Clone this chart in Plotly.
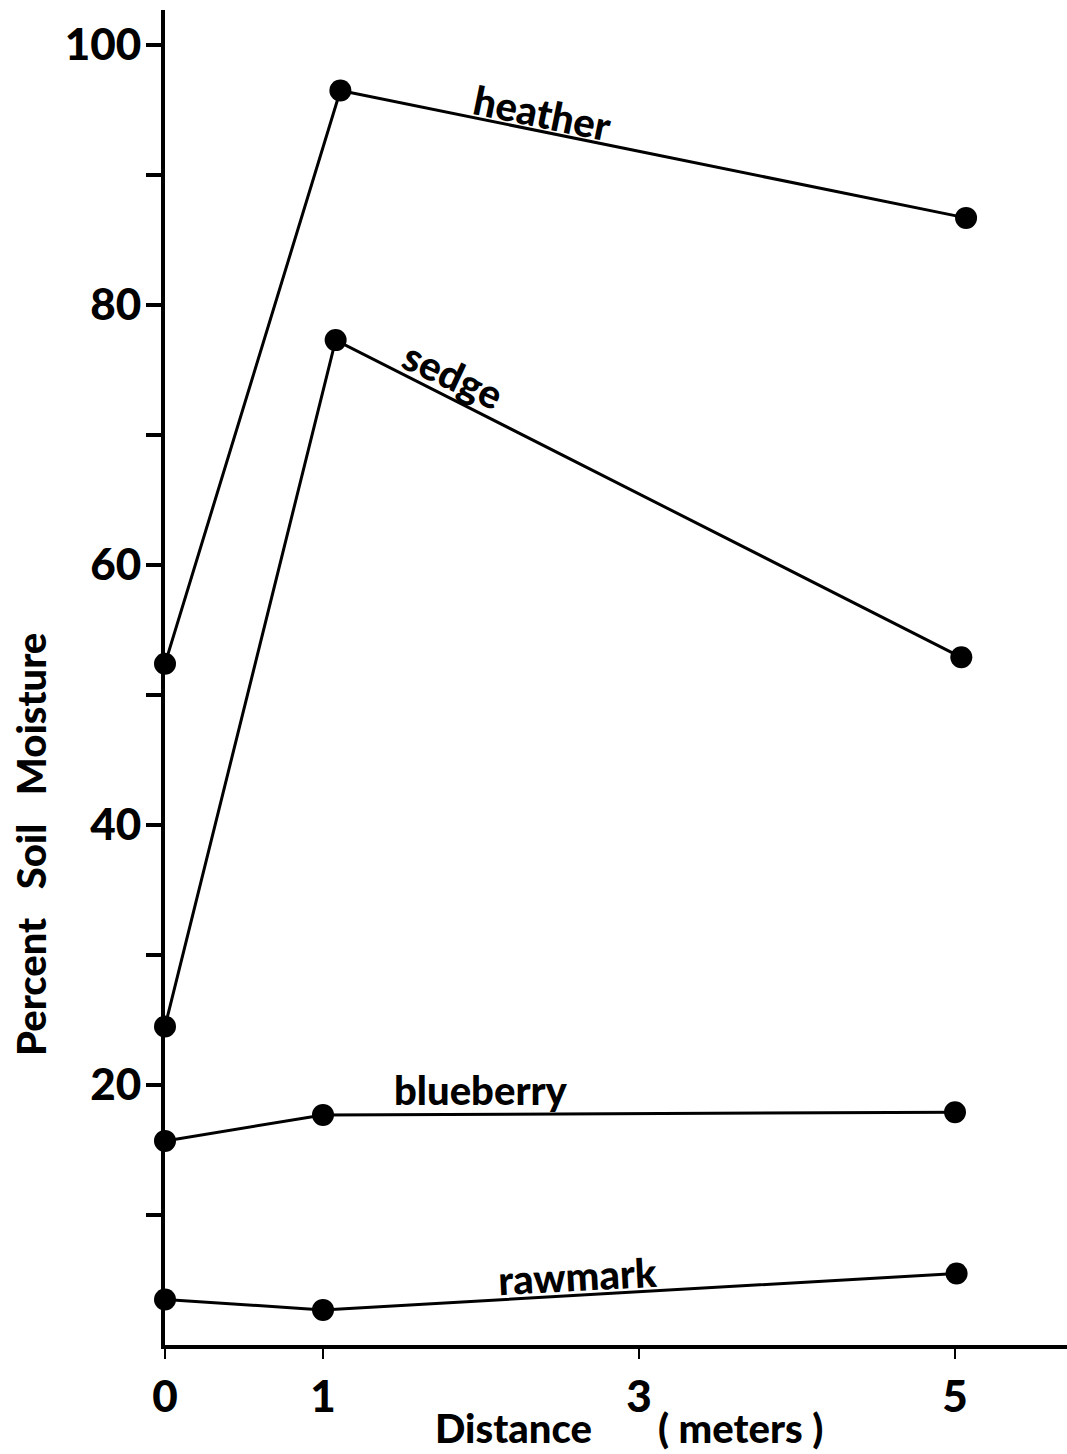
import plotly.graph_objects as go

# Data
heather_x = [0, 1.11, 5.07]
heather_y = [52.4, 96.5, 86.7]
sedge_x = [0, 1.08, 5.04]
sedge_y = [24.5, 77.3, 52.9]
blueberry_x = [0, 1.0, 5.0]
blueberry_y = [15.7, 17.7, 17.9]
rawmark_x = [0, 1.0, 5.01]
rawmark_y = [3.5, 2.7, 5.5]

y_tickvals = [10, 20, 30, 40, 50, 60, 70, 80, 90, 100]
y_ticktext = ["", "20", "", "40", "", "60", "", "80", "", "100"]
x_tickvals = [0, 1, 3, 5]
x_ticktext = ["0", "1", "3", "5"]

FONT = "Lato"
WEIGHT = 900
INK = "#000000"

L, R, T, B = 165, 0, 10, 109
W, H = 1067, 1454
pw, ph = W - L - R, H - T - B


def px2paper(px, py):
    return (px - L) / pw, (H - B - py) / ph


fig = go.Figure()
for xs, ys in [(heather_x, heather_y), (sedge_x, sedge_y),
               (blueberry_x, blueberry_y), (rawmark_x, rawmark_y)]:
    fig.add_trace(go.Scatter(
        x=xs, y=ys, mode="lines+markers",
        line=dict(color=INK, width=3),
        marker=dict(color=INK, size=22),
        showlegend=False, cliponaxis=False,
    ))

labels = [
    ("heather", 2.39, 94.8, 11.6, 40),
    ("sedge", 1.82, 74.6, 25, 40),
    ("blueberry", 2.0, 19.6, 0, 40),
    ("rawmark", 2.61, 5.3, -3, 40),
]
annotations = []
for txt, ax, ay, ang, sz in labels:
    annotations.append(dict(
        text=txt, x=ax, y=ay, xref="x", yref="y", showarrow=False,
        textangle=ang, xanchor="center", yanchor="middle",
        font=dict(family=FONT, size=sz, color=INK, weight=WEIGHT),
    ))

tx, ty = px2paper(31, 845)
annotations.append(dict(
    text="Percent&nbsp;&nbsp;&nbsp;Soil&nbsp;&nbsp;&nbsp;Moisture", x=tx, y=ty,
    xref="paper", yref="paper", showarrow=False, textangle=-90,
    xanchor="center", yanchor="middle",
    font=dict(family=FONT, size=40, color=INK, weight=WEIGHT),
))
dx, dy = px2paper(513, 1428)
annotations.append(dict(
    text="Distance", x=dx, y=dy, xref="paper", yref="paper", showarrow=False,
    xanchor="center", yanchor="middle",
    font=dict(family=FONT, size=40, color=INK, weight=WEIGHT),
))
mx, my = px2paper(740, 1428)
annotations.append(dict(
    text="( meters )", x=mx, y=my, xref="paper", yref="paper", showarrow=False,
    xanchor="center", yanchor="middle",
    font=dict(family=FONT, size=40, color=INK, weight=WEIGHT),
))

x_max = pw / 158.0
y_max = ph / 13.0

fig.update_layout(
    width=W, height=H,
    margin=dict(l=L, r=R, t=T, b=B),
    paper_bgcolor="white", plot_bgcolor="white",
    annotations=annotations,
    xaxis=dict(
        range=[0, x_max], showgrid=False, zeroline=False,
        showline=True, linecolor=INK, linewidth=4,
        tickmode="array", tickvals=x_tickvals, ticktext=x_ticktext,
        ticks="outside", ticklen=10, tickwidth=2, tickcolor=INK,
        ticklabelstandoff=0,
        tickfont=dict(family=FONT, size=44, color=INK, weight=WEIGHT),
    ),
    yaxis=dict(
        range=[0, y_max], showgrid=False, zeroline=False,
        showline=True, linecolor=INK, linewidth=4,
        tickmode="array", tickvals=y_tickvals, ticktext=y_ticktext,
        ticks="outside", ticklen=15, tickwidth=4, tickcolor=INK,
        ticklabelstandoff=-4,
        tickfont=dict(family=FONT, size=44, color=INK, weight=WEIGHT),
    ),
)

fig.write_html("out.html")
